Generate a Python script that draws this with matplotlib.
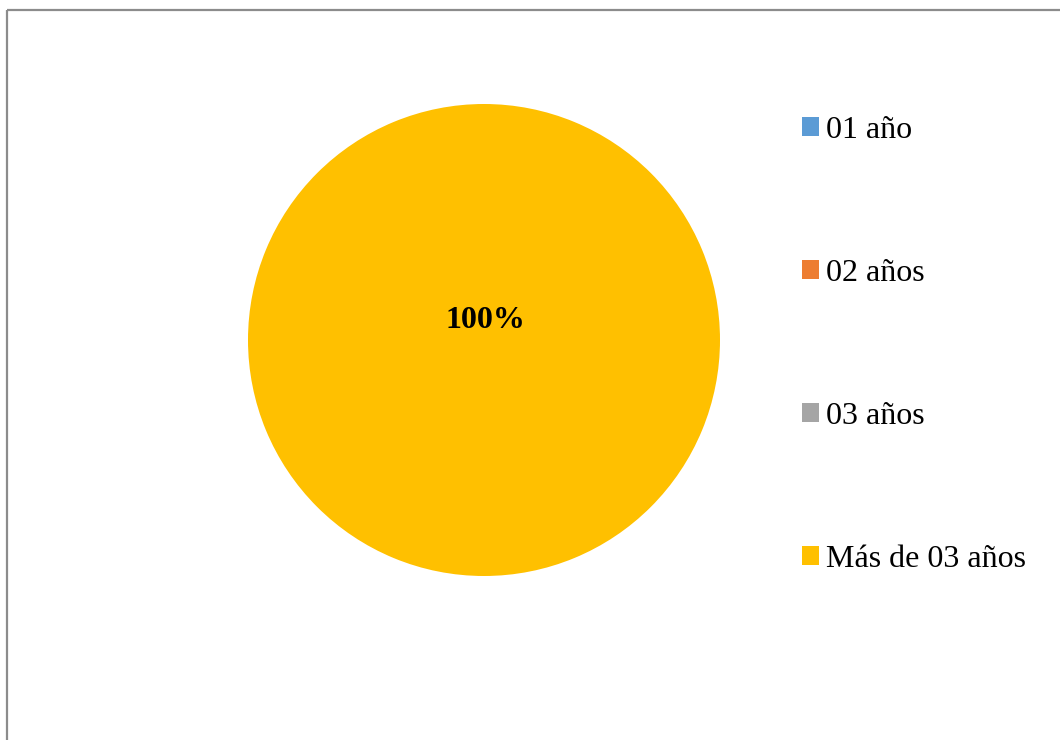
import matplotlib.pyplot as plt
from matplotlib.patches import Rectangle

# data
categorias = ["01 año", "02 años", "03 años", "Más de 03 años"]
valores = [0, 0, 0, 100]
colores = ["#5B9BD5", "#ED7D31", "#A5A5A5", "#FFC000"]

plt.rcParams['font.family'] = ['Liberation Serif', 'DejaVu Serif']

fig = plt.figure(figsize=(10.6, 7.4), dpi=100)
ax = fig.add_axes([0, 0, 1, 1])

wedges, _ = ax.pie(valores, colors=colores, center=(484, 340), radius=236,
                   startangle=90, counterclock=False, frame=True)
ax.set_xlim(0, 1060)
ax.set_ylim(740, 0)
ax.set_aspect('equal')
ax.axis('off')

# chart frame (only left and top edges fall inside the image)
ax.add_patch(Rectangle((7, 10), 1100, 800, fill=False, edgecolor="#8c8c8c", linewidth=1.6))

total = sum(valores)
for v in valores:
    if v > 0:
        ax.text(485, 320, f"{v / total:.0%}", ha='center', va='center',
                fontsize=23, fontweight='bold')

ax.legend(wedges, categorias, loc='upper left', bbox_to_anchor=(802 / 1060, 1 - 116 / 740),
          frameon=False, fontsize=23, handlelength=0.53, handleheight=0.53,
          handletextpad=0.22, labelspacing=3.57, borderpad=0, borderaxespad=0)

fig.savefig("out.png", dpi=100)
